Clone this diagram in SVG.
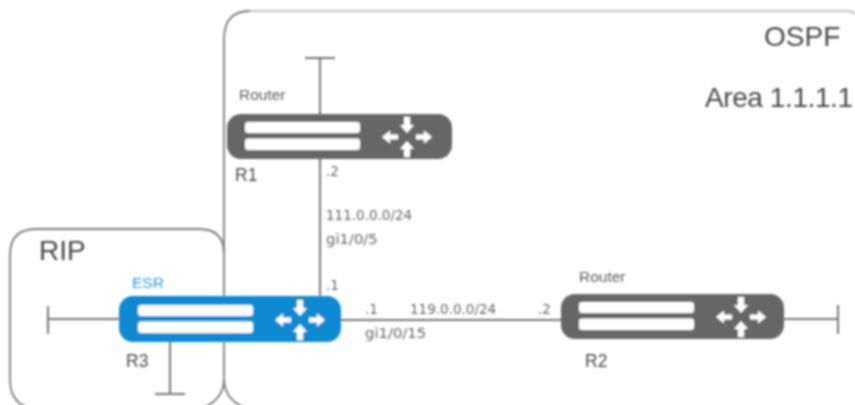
<svg xmlns="http://www.w3.org/2000/svg" xmlns:xlink="http://www.w3.org/1999/xlink" width="855" height="405" viewBox="0 0 855 405">
<style>
text{font-family:"Liberation Sans",Arial,sans-serif;fill:#555}
.zone{fill:none;stroke:#7c7c7c;stroke-width:1.8}
.top{fill:none;stroke:#c4c4c4;stroke-width:2}
.ln{fill:none;stroke:#767676;stroke-width:2}
.s{font-size:15.500px;fill:#5c5c5c}
.m{font-size:13.500px;font-family:"DejaVu Sans",sans-serif;fill:#666}
.g{font-size:14.800px;font-family:"DejaVu Sans",sans-serif;fill:#666}
.n{font-size:17.500px;fill:#4a4a4a}
.b{font-size:28px;fill:#484848}
.slot{fill:#fff}
.ar{fill:#fff}
</style>
<defs>
<filter id="soft" x="-2%" y="-2%" width="104%" height="104%"><feGaussianBlur stdDeviation="0.8"/></filter>
<g id="glyph">
<rect class="slot" x="18" y="8" width="115" height="11" rx="3"/>
<rect class="slot" x="18" y="24.500" width="115" height="11.500" rx="3"/>
<path class="ar" d="M177 3h6v8h4l-7 8l-7-8h4z"/>
<path class="ar" d="M177 43h6v-8h4l-7-8l-7 8h4z"/>
<path class="ar" d="M171 20.500v5h-8v4l-8-6.500l8-6.500v4z"/>
<path class="ar" d="M189 20.500v5h8v4l8-6.500l-8-6.500v4z"/>
</g>
</defs>
<rect width="855" height="405" fill="#fff"/>
<g filter="url(#soft)">
<g id="zones">
<path id="ospf-top" class="top" d="M855 14C853 12 851 11 848 11H250"/>
<path id="ospf" class="zone" d="M250 11Q224 11 224 39V379Q224 398 243 407"/>
<path id="rip" class="zone" d="M224 254Q224 229 199 229H36Q10 229 10 255V380Q10 400 26 407M224 379Q224 398 205 407"/>
</g>
<g id="connectors">
<path class="ln" d="M320 58V114M305 58H335"/>
<path class="ln" d="M320 159V296"/>
<path class="ln" d="M48 319H119M48 306V334"/>
<path class="ln" d="M170 342V394H155M170 394H185"/>
<path class="ln" d="M341 320H561"/>
<path class="ln" d="M784 319H838M838 305V334"/>
</g>
<g id="R1">
<rect x="227" y="114" width="225" height="45" rx="14" fill="#666"/>
<use xlink:href="#glyph" href="#glyph" x="227" y="114"/>
<text class="s" x="239" y="100">Router</text>
<text class="n" x="235" y="181">R1</text>
</g>
<g id="R3">
<rect x="119" y="296" width="222" height="46" rx="14" fill="#0a8ad2"/>
<use xlink:href="#glyph" href="#glyph" x="120" y="297"/>
<text x="132" y="288" font-size="15.500" style="fill:#2c9fdc">ESR</text>
<text class="n" x="126" y="367">R3</text>
</g>
<g id="R2">
<rect x="561" y="294" width="223" height="45" rx="14" fill="#666"/>
<use xlink:href="#glyph" href="#glyph" x="561" y="294"/>
<text class="s" x="579" y="282">Router</text>
<text class="n" x="585" y="367">R2</text>
</g>
<g id="labels">
<text class="b" x="764" y="46">OSPF</text>
<text class="b" x="705" y="107" textLength="148">Area 1.1.1.1</text>
<text class="b" x="39" y="260">RIP</text>
<text class="m" x="326" y="176">.2</text>
<text class="m" x="326" y="220">111.0.0.0/24</text>
<text class="g" x="326" y="244">gi1/0/5</text>
<text class="m" x="326" y="290">.1</text>
<text class="m" x="365" y="314">.1</text>
<text class="m" x="410" y="314">119.0.0.0/24</text>
<text class="m" x="538" y="314">.2</text>
<text class="g" x="365" y="338">gi1/0/15</text>
</g>
</g>
</svg>
